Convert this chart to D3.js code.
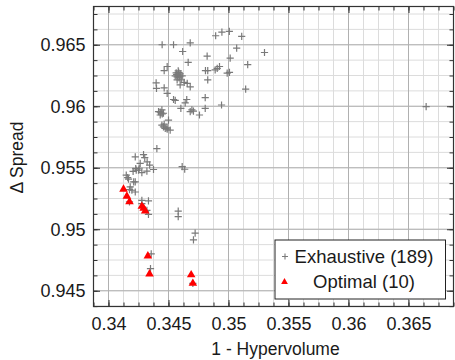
<!DOCTYPE html>
<html>
<head>
<meta charset="utf-8">
<script src="https://cdn.jsdelivr.net/npm/d3@7"></script>
<style>
body { margin: 0; background: #fff; }
text { font-family: "Liberation Sans", Arial, sans-serif; fill: #1a1a1a; }
</style>
</head>
<body>
<div id="chart"></div>
<script>
// exhaustive search results (1 - hypervolume, delta spread)
var exhaustiveX = [
  0.34447, 0.34542, 0.34681, 0.34618, 0.34893, 0.34945, 0.35007, 0.35110, 0.35068, 0.35300,
  0.34822, 0.35014, 0.34664, 0.35160, 0.34489, 0.34464, 0.34564, 0.34581, 0.34597, 0.34572,
  0.34589, 0.34606, 0.34581, 0.34556, 0.34614, 0.34572, 0.34585, 0.34595, 0.34568, 0.34808,
  0.34827, 0.34889, 0.34925, 0.34906, 0.34989, 0.35008, 0.34827, 0.34397, 0.34400, 0.34464,
  0.34489, 0.34631, 0.34656, 0.34681, 0.34597, 0.35143, 0.34542, 0.34556, 0.34652, 0.34639,
  0.34806, 0.34603, 0.34695, 0.34681, 0.34708, 0.34758, 0.34806, 0.34942, 0.34417, 0.34445,
  0.34431, 0.34458, 0.34431, 0.34448, 0.34438, 0.34500, 0.34445, 0.34458, 0.34473, 0.34487,
  0.34514, 0.34464, 0.34489, 0.34403, 0.34614, 0.34635, 0.34223, 0.34292, 0.34302, 0.34264,
  0.34322, 0.34343, 0.34227, 0.34250, 0.34278, 0.34320, 0.34375, 0.34231, 0.34256, 0.34205,
  0.34148, 0.34167, 0.34160, 0.34210, 0.34223, 0.34181, 0.34195, 0.34223, 0.34175, 0.34175,
  0.34278, 0.34333, 0.34278, 0.34320, 0.34333, 0.34581, 0.34581, 0.34722, 0.34708, 0.34356,
  0.34350, 0.34703, 0.36647
];
var exhaustiveY = [
  0.96500, 0.96500, 0.96516, 0.96445, 0.96573, 0.96602, 0.96609, 0.96568, 0.96473, 0.96437,
  0.96408, 0.96391, 0.96357, 0.96339, 0.96323, 0.96290, 0.96272, 0.96255, 0.96263, 0.96239,
  0.96231, 0.96214, 0.96288, 0.96247, 0.96247, 0.96214, 0.96275, 0.96245, 0.96258, 0.96290,
  0.96290, 0.96296, 0.96323, 0.96308, 0.96269, 0.96276, 0.96214, 0.96190, 0.96145, 0.96149,
  0.96104, 0.96194, 0.96186, 0.96157, 0.96174, 0.96139, 0.96055, 0.96047, 0.96055, 0.96027,
  0.96070, 0.95983, 0.95970, 0.95956, 0.95961, 0.95929, 0.95983, 0.96010, 0.95956, 0.95970,
  0.95929, 0.95943, 0.95953, 0.95937, 0.95945, 0.95888, 0.95847, 0.95833, 0.95820, 0.95825,
  0.95806, 0.95855, 0.95814, 0.95655, 0.95509, 0.95488, 0.95589, 0.95606, 0.95582, 0.95535,
  0.95548, 0.95521, 0.95494, 0.95480, 0.95460, 0.95472, 0.95486, 0.95480, 0.95496, 0.95470,
  0.95440, 0.95407, 0.95420, 0.95385, 0.95385, 0.95344, 0.95317, 0.95303, 0.95322, 0.95223,
  0.95235, 0.95231, 0.95208, 0.95154, 0.95121, 0.95148, 0.95102, 0.94968, 0.94914, 0.94800,
  0.94680, 0.94560, 0.95997
];
// pareto optimal picks
var optimalX = [0.34125, 0.34153, 0.34175, 0.34278, 0.34293, 0.34306, 0.34328, 0.34342, 0.34689, 0.34703];
var optimalY = [0.95325, 0.95268, 0.95223, 0.95186, 0.95170, 0.95148, 0.94782, 0.94637, 0.94629, 0.94560];

var xTicks = [0.34, 0.345, 0.35, 0.355, 0.36, 0.365];
var xTickLabels = ["0.34", "0.345", "0.35", "0.355", "0.36", "0.365"];
var yTicks = [0.945, 0.95, 0.955, 0.96, 0.965];
var yTickLabels = ["0.945", "0.95", "0.955", "0.96", "0.965"];
var legendLabels = ["Exhaustive (189)", "Optimal (10)"];

var width = 455, height = 360;
var plotLeft = 93.5, plotRight = 453.5, plotTop = 6.5, plotBottom = 306.5;

var x = d3.scaleLinear().domain([0.33875, 0.36875]).range([plotLeft, plotRight]);
var y = d3.scaleLinear().domain([0.94372, 0.96811]).range([plotBottom, plotTop]);

var xMinor = d3.range(0, 25).map(function(i) { return 0.33875 + i * 0.00125; });
var yMinor = d3.range(0, 20).map(function(i) { return 0.94375 + i * 0.00125; });

var plusPath = "M-3.6,0H3.6M0,-3.6V3.6";

var svg = d3.select("#chart").append("svg")
  .attr("width", width)
  .attr("height", height);

svg.append("rect").attr("width", width).attr("height", height).attr("fill", "#fff");

// grid
var grid = svg.append("g");
grid.selectAll(".vminor").data(xMinor).enter().append("line")
  .attr("x1", function(d) { return x(d); }).attr("x2", function(d) { return x(d); })
  .attr("y1", plotTop).attr("y2", plotBottom)
  .attr("stroke", "#dcdcdc").attr("stroke-width", 1);
grid.selectAll(".hminor").data(yMinor).enter().append("line")
  .attr("y1", function(d) { return y(d); }).attr("y2", function(d) { return y(d); })
  .attr("x1", plotLeft).attr("x2", plotRight)
  .attr("stroke", "#dcdcdc").attr("stroke-width", 1);
grid.selectAll(".vmajor").data(xTicks).enter().append("line")
  .attr("x1", function(d) { return x(d); }).attr("x2", function(d) { return x(d); })
  .attr("y1", plotTop).attr("y2", plotBottom)
  .attr("stroke", "#b0b0b0").attr("stroke-width", 1);
grid.selectAll(".hmajor").data(yTicks).enter().append("line")
  .attr("y1", function(d) { return y(d); }).attr("y2", function(d) { return y(d); })
  .attr("x1", plotLeft).attr("x2", plotRight)
  .attr("stroke", "#b0b0b0").attr("stroke-width", 1);

// exhaustive points
svg.append("g").selectAll("path")
  .data(exhaustiveX)
  .enter()
  .append("path")
  .attr("transform", function(d, i) { return "translate(" + x(d) + "," + y(exhaustiveY[i]) + ")"; })
  .attr("d", plusPath)
  .attr("stroke", "#7a7a7a")
  .attr("stroke-width", 1.2)
  .attr("fill", "none");

// optimal points
svg.append("g").selectAll("path")
  .data(optimalX)
  .enter()
  .append("path")
  .attr("transform", function(d, i) { return "translate(" + x(d) + "," + y(optimalY[i]) + ")"; })
  .attr("d", d3.symbol().type(d3.symbolTriangle).size(32))
  .attr("fill", "#ff0000");

// axes: inward ticks on all four sides
function styleAxis(g) {
  g.select(".domain").remove();
  g.selectAll(".tick line").attr("stroke", "#333").attr("stroke-width", 1);
}
svg.append("g").attr("transform", "translate(0," + plotBottom + ")")
  .call(d3.axisBottom(x).tickValues(xMinor).tickSize(-4).tickFormat("")).call(styleAxis);
svg.append("g").attr("transform", "translate(0," + plotTop + ")")
  .call(d3.axisTop(x).tickValues(xMinor).tickSize(-4).tickFormat("")).call(styleAxis);
svg.append("g").attr("transform", "translate(" + plotLeft + ",0)")
  .call(d3.axisLeft(y).tickValues(yMinor).tickSize(-4).tickFormat("")).call(styleAxis);
svg.append("g").attr("transform", "translate(" + plotRight + ",0)")
  .call(d3.axisRight(y).tickValues(yMinor).tickSize(-4).tickFormat("")).call(styleAxis);

var xAxis = svg.append("g").attr("transform", "translate(0," + plotBottom + ")")
  .call(d3.axisBottom(x).tickValues(xTicks).tickSize(-6.5).tickPadding(10.5)
    .tickFormat(function(d, i) { return xTickLabels[i]; }))
  .call(styleAxis);
xAxis.selectAll("text").attr("font-size", 18).attr("fill", "#1a1a1a");
xAxis.attr("font-family", null);

var yAxis = svg.append("g").attr("transform", "translate(" + plotLeft + ",0)")
  .call(d3.axisLeft(y).tickValues(yTicks).tickSize(-6.5).tickPadding(8)
    .tickFormat(function(d, i) { return yTickLabels[i]; }))
  .call(styleAxis);
yAxis.selectAll("text").attr("font-size", 18).attr("fill", "#1a1a1a");
yAxis.attr("font-family", null);

svg.append("g").attr("transform", "translate(0," + plotTop + ")")
  .call(d3.axisTop(x).tickValues(xTicks).tickSize(-6.5).tickFormat("")).call(styleAxis);
svg.append("g").attr("transform", "translate(" + plotRight + ",0)")
  .call(d3.axisRight(y).tickValues(yTicks).tickSize(-6.5).tickFormat("")).call(styleAxis);

// frame
svg.append("rect")
  .attr("x", plotLeft).attr("y", plotTop)
  .attr("width", plotRight - plotLeft).attr("height", plotBottom - plotTop)
  .attr("fill", "none").attr("stroke", "#333").attr("stroke-width", 1.2);

// axis titles
svg.append("text")
  .attr("x", (plotLeft + plotRight) / 2 + 2)
  .attr("y", 355)
  .attr("text-anchor", "middle")
  .attr("font-size", 17.5)
  .text("1 - Hypervolume");
svg.append("text")
  .attr("transform", "translate(22.5," + ((plotTop + plotBottom) / 2 + 1) + ") rotate(-90)")
  .attr("text-anchor", "middle")
  .attr("font-size", 17.5)
  .text("\u0394 Spread");

// legend
var legend = svg.append("g");
legend.append("rect")
  .attr("x", 275).attr("y", 240).attr("width", 170.5).attr("height", 59)
  .attr("fill", "#fff").attr("stroke", "#222").attr("stroke-width", 1);
legend.append("path")
  .attr("transform", "translate(285,256.5)")
  .attr("d", "M-3,0H3M0,-3V3")
  .attr("stroke", "#7a7a7a").attr("stroke-width", 1.1);
legend.append("path")
  .attr("transform", "translate(284.5,282)")
  .attr("d", d3.symbol().type(d3.symbolTriangle).size(20))
  .attr("fill", "#ff0000");
legend.selectAll(".lbl").data(legendLabels).enter().append("text")
  .attr("x", 364)
  .attr("y", function(d, i) { return 263 + i * 25; })
  .attr("text-anchor", "middle")
  .attr("font-size", 18.5)
  .text(function(d) { return d; });
</script>
</body>
</html>
